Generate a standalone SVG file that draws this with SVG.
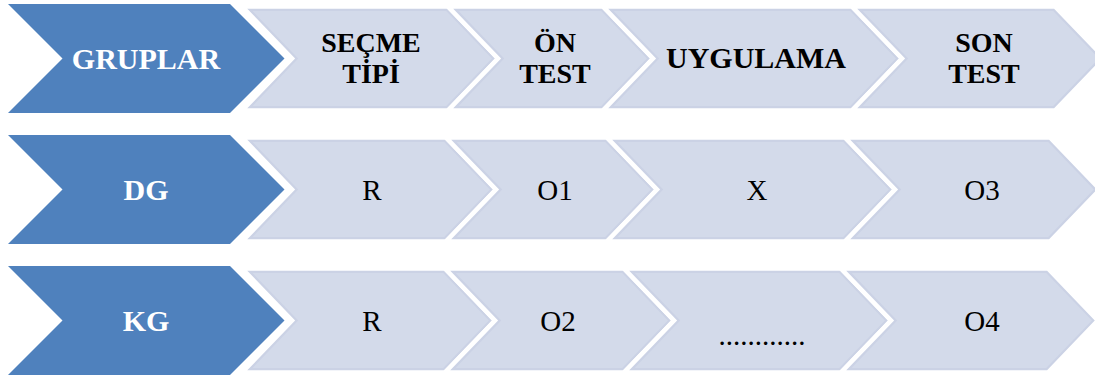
<svg xmlns="http://www.w3.org/2000/svg" width="1095" height="376" viewBox="0 0 1095 376">
<style>
.blue{fill:#4F81BD}
.lt{fill:#D3DAEA;stroke:#CBD2E5;stroke-width:9}
.edge{fill:none;stroke:#FFFFFF;stroke-width:4.5;stroke-linejoin:miter}
.hw{font-family:"Liberation Serif","Times New Roman",serif;font-weight:bold;font-size:30px;fill:#FFFFFF;text-anchor:middle}
.hb{font-family:"Liberation Serif","Times New Roman",serif;font-weight:bold;font-size:30px;fill:#000000;text-anchor:middle}
.h2{font-family:"Liberation Serif","Times New Roman",serif;font-weight:bold;font-size:28px;fill:#000000;text-anchor:middle}
.tx{font-family:"Liberation Serif","Times New Roman",serif;font-size:29px;fill:#000000;text-anchor:middle}
</style>
<defs>
<polygon id="p11" points="242,6.5 448,6.5 498,58.5 448,110.5 242,110.5 292,58.5"/>
<polygon id="p12" points="448,6.5 603,6.5 653,58.5 603,110.5 448,110.5 498,58.5"/>
<polygon id="p13" points="603,6.5 852,6.5 902,58.5 852,110.5 603,110.5 653,58.5"/>
<polygon id="p14" points="852,6.5 1055,6.5 1105,58.5 1055,110.5 852,110.5 902,58.5"/>
<polygon id="p21" points="242,137.5 446,137.5 496,189.5 446,241.5 242,241.5 292,189.5"/>
<polygon id="p22" points="446,137.5 607,137.5 657,189.5 607,241.5 446,241.5 496,189.5"/>
<polygon id="p23" points="607,137.5 845,137.5 895,189.5 845,241.5 607,241.5 657,189.5"/>
<polygon id="p24" points="845,137.5 1050,137.5 1100,189.5 1050,241.5 845,241.5 895,189.5"/>
<polygon id="p31" points="242,268.5 445,268.5 495,320.5 445,372.5 242,372.5 292,320.5"/>
<polygon id="p32" points="445,268.5 624,268.5 674,320.5 624,372.5 445,372.5 495,320.5"/>
<polygon id="p33" points="624,268.5 841,268.5 891,320.5 841,372.5 624,372.5 674,320.5"/>
<polygon id="p34" points="841,268.5 1048,268.5 1098,320.5 1048,372.5 841,372.5 891,320.5"/>
<clipPath id="k11"><use href="#p11"/></clipPath>
<clipPath id="k12"><use href="#p12"/></clipPath>
<clipPath id="k13"><use href="#p13"/></clipPath>
<clipPath id="k14"><use href="#p14"/></clipPath>
<clipPath id="k21"><use href="#p21"/></clipPath>
<clipPath id="k22"><use href="#p22"/></clipPath>
<clipPath id="k23"><use href="#p23"/></clipPath>
<clipPath id="k24"><use href="#p24"/></clipPath>
<clipPath id="k31"><use href="#p31"/></clipPath>
<clipPath id="k32"><use href="#p32"/></clipPath>
<clipPath id="k33"><use href="#p33"/></clipPath>
<clipPath id="k34"><use href="#p34"/></clipPath>
</defs>
<rect width="1095" height="376" fill="#FFFFFF"/>

<g id="gruplar">
<polygon class="blue" points="8,4 230,4 284.5,58.5 230,113 8,113 62.5,58.5"/>
<text class="hw" x="146" y="69">GRUPLAR</text>
</g>
<g id="secme-tipi">
<use href="#p11" class="lt" clip-path="url(#k11)"/><use href="#p11" class="edge"/>
<text class="h2" x="371" y="52">SEÇME</text>
<text class="h2" x="371" y="83">TİPİ</text>
</g>
<g id="on-test">
<use href="#p12" class="lt" clip-path="url(#k12)"/><use href="#p12" class="edge"/>
<text class="h2" x="555" y="52">ÖN</text>
<text class="h2" x="555" y="83">TEST</text>
</g>
<g id="uygulama">
<use href="#p13" class="lt" clip-path="url(#k13)"/><use href="#p13" class="edge"/>
<text class="hb" x="756" y="68">UYGULAMA</text>
</g>
<g id="son-test">
<use href="#p14" class="lt" clip-path="url(#k14)"/><use href="#p14" class="edge"/>
<text class="h2" x="984" y="52">SON</text>
<text class="h2" x="984" y="83">TEST</text>
</g>

<g id="dg">
<polygon class="blue" points="8,135 230,135 284.5,189.5 230,244 8,244 62.5,189.5"/>
<text class="hw" x="146" y="200">DG</text>
</g>
<g id="dg-r">
<use href="#p21" class="lt" clip-path="url(#k21)"/><use href="#p21" class="edge"/>
<text class="tx" x="372" y="200">R</text>
</g>
<g id="dg-o1">
<use href="#p22" class="lt" clip-path="url(#k22)"/><use href="#p22" class="edge"/>
<text class="tx" x="555" y="200">O1</text>
</g>
<g id="dg-x">
<use href="#p23" class="lt" clip-path="url(#k23)"/><use href="#p23" class="edge"/>
<text class="tx" x="757" y="200">X</text>
</g>
<g id="dg-o3">
<use href="#p24" class="lt" clip-path="url(#k24)"/><use href="#p24" class="edge"/>
<text class="tx" x="982" y="200">O3</text>
</g>

<g id="kg">
<polygon class="blue" points="8,266 230,266 284.5,320.5 230,375 8,375 62.5,320.5"/>
<text class="hw" x="146" y="331">KG</text>
</g>
<g id="kg-r">
<use href="#p31" class="lt" clip-path="url(#k31)"/><use href="#p31" class="edge"/>
<text class="tx" x="372" y="331">R</text>
</g>
<g id="kg-o2">
<use href="#p32" class="lt" clip-path="url(#k32)"/><use href="#p32" class="edge"/>
<text class="tx" x="558" y="331">O2</text>
</g>
<g id="kg-bos">
<use href="#p33" class="lt" clip-path="url(#k33)"/><use href="#p33" class="edge"/>
<text class="tx" x="762" y="345">............</text>
</g>
<g id="kg-o4">
<use href="#p34" class="lt" clip-path="url(#k34)"/><use href="#p34" class="edge"/>
<text class="tx" x="982" y="331">O4</text>
</g>
</svg>
